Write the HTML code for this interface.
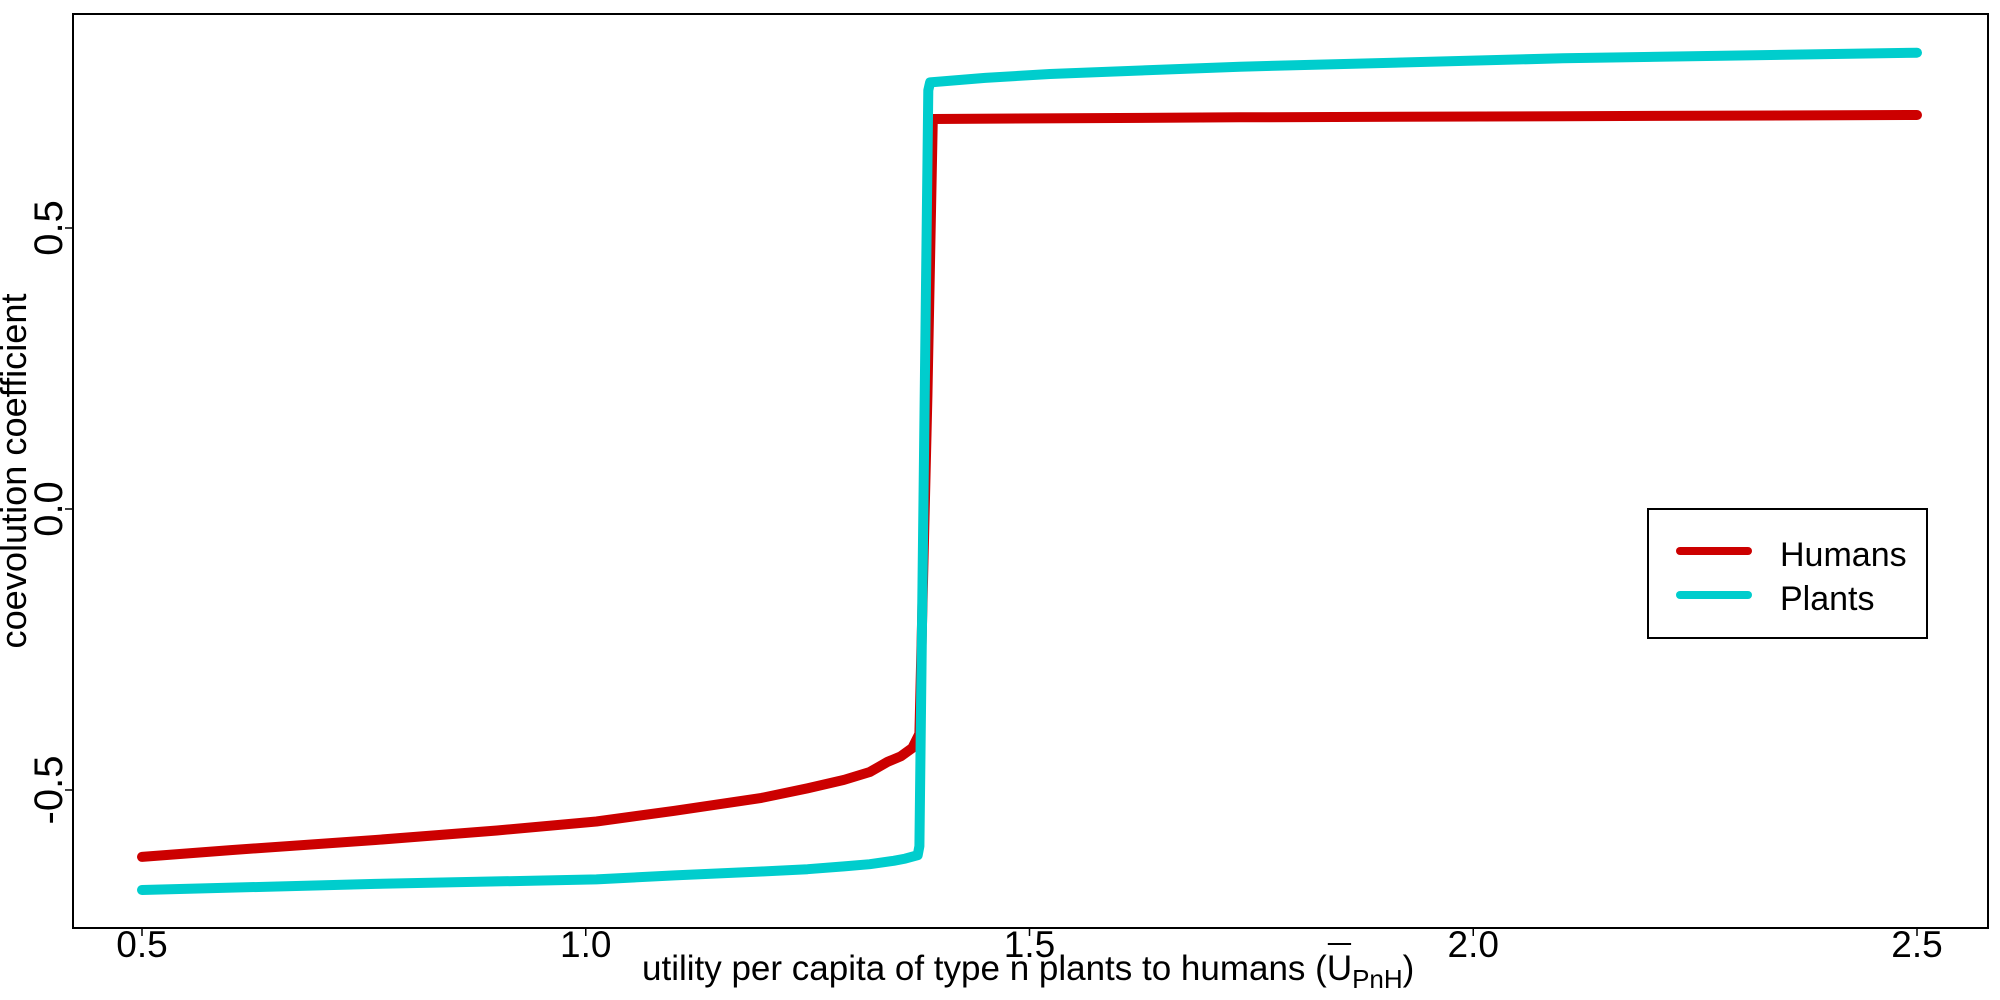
<!DOCTYPE html>
<html><head><meta charset="utf-8"><style>
html,body{margin:0;padding:0;background:#fff;}
svg{display:block;font-family:"Liberation Sans",Arial,sans-serif;}
</style></head><body>
<svg id="chart" width="2000" height="1000" viewBox="0 0 2000 1000" xmlns="http://www.w3.org/2000/svg">
<rect x="73" y="14" width="1915" height="914" fill="none" stroke="#000" stroke-width="2"/>
<g id="marks"></g>
<g id="axes"></g>
<text id="xtitle" x="642" y="980" font-size="35">utility per capita of type n plants to humans (<tspan id="ubar">U</tspan><tspan font-size="26" dy="8">PnH</tspan><tspan dy="-8">)</tspan></text>
<line id="overbar" x1="0" y1="944" x2="0" y2="944" stroke="#000" stroke-width="2"/>
<text transform="translate(26,471) rotate(-90)" text-anchor="middle" font-size="36" textLength="355" lengthAdjust="spacingAndGlyphs">coevolution coefficient</text>
<g>
<rect x="1648" y="509" width="279" height="129" fill="#fff" stroke="#000" stroke-width="2"/>
<line x1="1680" y1="551" x2="1748" y2="551" stroke="#CC0000" stroke-width="8" stroke-linecap="round"/>
<text x="1780" y="566" font-size="34">Humans</text>
<line x1="1680" y1="595" x2="1748" y2="595" stroke="#00CDCD" stroke-width="8" stroke-linecap="round"/>
<text x="1780" y="610" font-size="34">Plants</text>
</g>
</svg>
<script>
const xTicks = [0.5, 1.0, 1.5, 2.0, 2.5];
const xTickLabels = ["0.5", "1.0", "1.5", "2.0", "2.5"];
const yTicks = [-0.5, 0.0, 0.5];
const yTickLabels = ["-0.5", "0.0", "0.5"];
const humansX = [0.5, 0.6, 0.763, 0.9, 1.012, 1.1, 1.198, 1.25, 1.291, 1.32, 1.34, 1.355, 1.368, 1.376, 1.385, 1.391, 1.737, 2.1, 2.5];
const humansY = [-0.619, -0.607, -0.589, -0.572, -0.556, -0.537, -0.514, -0.497, -0.482, -0.468, -0.45, -0.44, -0.425, -0.40, 0.2, 0.694, 0.697, 0.699, 0.701];
const plantsX = [0.5, 0.763, 1.012, 1.1, 1.198, 1.25, 1.291, 1.32, 1.347, 1.36, 1.374, 1.376, 1.386, 1.388, 1.45, 1.523, 1.737, 2.101, 2.5];
const plantsY = [-0.678, -0.667, -0.659, -0.652, -0.645, -0.641, -0.636, -0.632, -0.626, -0.622, -0.616, -0.6, 0.745, 0.759, 0.767, 0.774, 0.787, 0.802, 0.812];

const NS = "http://www.w3.org/2000/svg";
function sx(v){ return 142 + (v - 0.5) * 887.5; }
function sy(v){ return 509 - v * 562; }

const marks = document.getElementById('marks');
const axes = document.getElementById('axes');

function drawLine(xs, ys, color, name){
  const p = document.createElementNS(NS, 'polyline');
  p.setAttribute('points', xs.map((x,i)=>sx(x).toFixed(1)+','+sy(ys[i]).toFixed(1)).join(' '));
  p.setAttribute('fill','none');
  p.setAttribute('stroke',color);
  p.setAttribute('stroke-width','10');
  p.setAttribute('stroke-linecap','round');
  p.setAttribute('stroke-linejoin','round');
  
  
  marks.appendChild(p);
}
drawLine(humansX, humansY, '#CC0000', 'humans-line');
drawLine(plantsX, plantsY, '#00CDCD', 'plants-line');

xTicks.forEach((v,i)=>{
  const t = document.createElementNS(NS,'line');
  t.setAttribute('x1',sx(v)); t.setAttribute('x2',sx(v));
  t.setAttribute('y1',928); t.setAttribute('y2',936);
  t.setAttribute('stroke','#000'); t.setAttribute('stroke-width','1.5');
  
  
  axes.appendChild(t);
  const l = document.createElementNS(NS,'text');
  l.setAttribute('x',sx(v)); l.setAttribute('y',957);
  l.setAttribute('text-anchor','middle'); l.setAttribute('font-size','37');
  l.textContent = xTickLabels[i];
  
  
  axes.appendChild(l);
});
yTicks.forEach((v,i)=>{
  const t = document.createElementNS(NS,'line');
  t.setAttribute('x1',65); t.setAttribute('x2',73);
  t.setAttribute('y1',sy(v)); t.setAttribute('y2',sy(v));
  t.setAttribute('stroke','#000'); t.setAttribute('stroke-width','1.5');
  
  
  axes.appendChild(t);
  const l = document.createElementNS(NS,'text');
  l.setAttribute('transform','translate(62,'+sy(v)+') rotate(-90)');
  l.setAttribute('text-anchor','middle'); l.setAttribute('font-size','40');
  l.textContent = yTickLabels[i];
  
  
  axes.appendChild(l);
});

// overbar above the U
try {
  const xt = document.getElementById('xtitle');
  const s = xt.textContent;
  const idx = s.indexOf('(') + 1;
  const p0 = xt.getStartPositionOfChar(idx);
  const p1 = xt.getEndPositionOfChar(idx);
  const ob = document.getElementById('overbar');
  ob.setAttribute('x1', p0.x + 1);
  ob.setAttribute('x2', p1.x - 1);
} catch(e) {}
</script>
</body></html>
